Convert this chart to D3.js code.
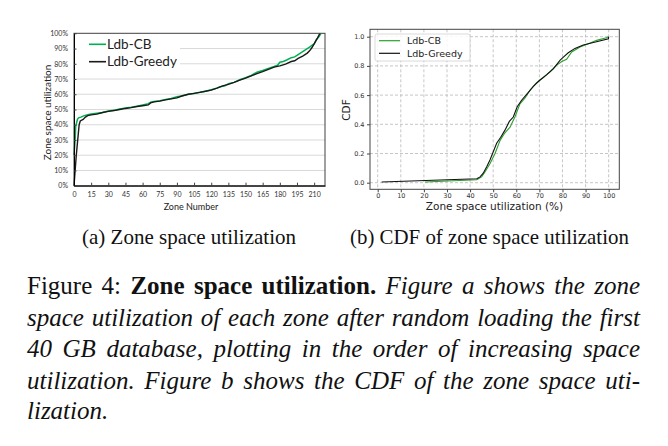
<!DOCTYPE html>
<html>
<head>
<meta charset="utf-8">
<script src="https://cdn.jsdelivr.net/npm/d3@7"></script>
<style>
  html, body { margin: 0; padding: 0; background: #fff; }
  svg { display: block; }
  .serif { font-family: "Liberation Serif", "Times New Roman", Times, serif; }
</style>
</head>
<body>
<svg id="fig" width="668" height="446"></svg>
<script>
// ---------- Data: (a) zone space utilization, sorted by zone ----------
const seriesNames = ["Ldb-CB", "Ldb-Greedy"];
const cbZone   = [0, 1, 1.5, 3, 4, 6, 9, 12, 15, 20, 25, 30, 35, 40, 45, 50, 55, 60, 65, 67, 70, 75, 80, 85, 90, 95, 100, 105, 110, 115, 120, 125, 128, 132, 135, 140, 145, 150, 155, 160, 165, 170, 175, 178, 180, 183, 186, 190, 193, 196, 200, 203, 206, 208, 210, 212, 214, 216];
const cbUtil   = [20, 30, 39, 43.5, 44.5, 45, 46, 46.5, 47, 47.5, 48, 49, 49.5, 50.3, 51, 51.5, 52.2, 53, 53.8, 54.8, 55.2, 55.8, 56.5, 57.2, 58.3, 59, 60, 60.5, 61.3, 62, 63, 64, 65, 65.5, 67, 67.8, 69.5, 70.8, 72.3, 74.5, 75.6, 77, 78.2, 79, 81, 81.5, 82.5, 84, 84.5, 86, 88, 89.5, 91, 92, 93, 96, 97.5, 100];
const greedyZone = [0, 2, 4.5, 5.5, 8, 10, 12, 15, 20, 25, 30, 35, 40, 45, 50, 55, 60, 65, 67, 70, 75, 80, 85, 90, 95, 100, 105, 110, 115, 120, 125, 130, 135, 140, 145, 150, 155, 160, 165, 170, 175, 180, 185, 190, 193, 196, 200, 204, 206, 208, 210, 213, 215];
const greedyUtil = [0, 20, 40, 42.5, 43.5, 45, 46, 46.5, 47, 48, 48.8, 49.3, 50, 50.7, 51.2, 52, 52.5, 53, 54.3, 55, 55.5, 56.3, 57, 57.6, 59, 60, 60.6, 61.2, 62, 62.7, 64, 65.5, 66.5, 67.8, 69.3, 70.6, 72, 73.6, 74.8, 76.3, 77.8, 78.6, 79.8, 81.5, 82, 83.5, 85, 87, 88.5, 90.5, 93, 97, 100];
const aXTicks = [0, 15, 30, 45, 60, 75, 90, 105, 120, 135, 150, 165, 180, 195, 210];
const aYTicks = [0, 10, 20, 30, 40, 50, 60, 70, 80, 90, 100];

// ---------- Data: (b) CDF of zone space utilization ----------
const cdfCbX = [20.5, 42.9, 45, 46.5, 48.6, 50.8, 53, 55, 57.3, 59.4, 61.6, 63.8, 66, 68.8, 71.7, 74.6, 77.5, 79.7, 81.8, 84, 87.6, 91.2, 94.8, 99, 100];
const cdfCbY = [0.005, 0.02, 0.04, 0.075, 0.13, 0.2, 0.29, 0.34, 0.38, 0.45, 0.54, 0.58, 0.635, 0.685, 0.72, 0.76, 0.805, 0.83, 0.845, 0.895, 0.93, 0.952, 0.975, 0.993, 1.0];
const cdfGreedyX = [1.7, 42.9, 44.3, 45.7, 47.2, 48.6, 50, 51.5, 53.2, 55.1, 57, 58.7, 60.4, 62.3, 64.5, 67.4, 70, 73.2, 76, 79, 80.4, 82.5, 85.4, 89, 93.4, 99.9, 100];
const cdfGreedyY = [0.005, 0.027, 0.04, 0.065, 0.11, 0.155, 0.21, 0.27, 0.31, 0.36, 0.42, 0.45, 0.52, 0.565, 0.605, 0.66, 0.70, 0.74, 0.78, 0.84, 0.86, 0.89, 0.92, 0.943, 0.96, 0.985, 1.0];
const bXTicks = [0, 10, 20, 30, 40, 50, 60, 70, 80, 90, 100];
const bYTicks = [0, 0.2, 0.4, 0.6, 0.8, 1.0];

// ---------- Text ----------
const subCaptions = ["(a) Zone space utilization", "(b) CDF of zone space utilization"];
const paraLines = [
  [["Figure 4: ", "normal", "normal"], ["Zone space utilization.", "bold", "normal"], [" Figure a shows the zone", "normal", "italic"]],
  [["space utilization of each zone after random loading the first", "normal", "italic"]],
  [["40 GB database, plotting in the order of increasing space", "normal", "italic"]],
  [["utilization. Figure b shows the CDF of the zone space uti-", "normal", "italic"]],
  [["lization.", "normal", "italic"]]
];

const svg = d3.select("#fig");
svg.append("rect").attr("width", 668).attr("height", 446).attr("fill", "#fff");

// ================= Chart (a) =================
(function () {
  const L = 74, R = 325, T = 33.3, B = 185.7;
  const x = d3.scaleLinear().domain([0, 219.5]).range([L, R]);
  const y = d3.scaleLinear().domain([0, 100]).range([B, T]);
  const g = svg.append("g").attr("font-family", "Lato, 'Open Sans', sans-serif");

  g.selectAll("line.grid").data(aYTicks.filter(d => d > 0 && d < 100)).join("line")
    .attr("x1", L).attr("x2", R).attr("y1", d => y(d)).attr("y2", d => y(d))
    .attr("stroke", "#d9d9d9").attr("stroke-width", 1);

  g.append("rect").attr("x", L + 1).attr("y", T + 1).attr("width", 105).attr("height", 36).attr("fill", "#fff");

  const line = d3.line().x(d => x(d[0])).y(d => y(d[1]));
  const cb = cbZone.map((z, i) => [z, cbUtil[i]]);
  const gr = greedyZone.map((z, i) => [z, greedyUtil[i]]);
  g.append("path").attr("d", line(cb)).attr("fill", "none").attr("stroke", "#00b050").attr("stroke-width", 1.5);
  g.append("path").attr("d", line(gr)).attr("fill", "none").attr("stroke", "#1a1a1a").attr("stroke-width", 1.4);

  g.append("rect").attr("x", L).attr("y", T).attr("width", R - L).attr("height", B - T)
    .attr("fill", "none").attr("stroke", "#404040").attr("stroke-width", 1);

  const xAxis = d3.axisBottom(x).tickValues(aXTicks).tickSizeInner(-3).tickSizeOuter(0).tickPadding(6.5);
  const gx = g.append("g").attr("transform", `translate(0,${B})`).call(xAxis);
  gx.select(".domain").attr("stroke", "#000");
  gx.selectAll(".tick line").attr("stroke", "#404040");
  gx.selectAll(".tick text").attr("font-size", 7).attr("fill", "#333").attr("font-family", "Lato, sans-serif");

  const yAxis = d3.axisLeft(y).tickValues(aYTicks).tickFormat(d => d + "%").tickSizeInner(-2.5).tickSizeOuter(0).tickPadding(6);
  const gy = g.append("g").attr("transform", `translate(${L},0)`).call(yAxis);
  gy.select(".domain").attr("stroke", "#000");
  gy.selectAll(".tick line").attr("stroke", "#404040");
  gy.selectAll(".tick text").attr("font-size", 7).attr("fill", "#333").attr("font-family", "Lato, sans-serif");

  g.append("text").attr("x", 191).attr("y", 209.5).attr("text-anchor", "middle")
    .attr("font-size", 9).attr("fill", "#222").text("Zone Number");
  g.append("text").attr("transform", `translate(51,${(T + B) / 2 + 3}) rotate(-90)`).attr("text-anchor", "middle")
    .attr("font-size", 10).attr("fill", "#222").text("Zone space utilization");

  const lg = [[seriesNames[0], "#00b050", 44.3], [seriesNames[1], "#1a1a1a", 61.7]];
  lg.forEach(([name, col, ly]) => {
    g.append("line").attr("x1", 89).attr("x2", 106).attr("y1", ly).attr("y2", ly).attr("stroke", col).attr("stroke-width", 1.6);
    g.append("text").attr("x", 107).attr("y", ly + 4.6).attr("font-size", 13.5).attr("fill", "#222").text(name);
  });
})();

// ================= Chart (b) =================
(function () {
  const L = 370, R = 619.3, T = 29.3, B = 189.3;
  const x = d3.scaleLinear().domain([-3.33, 104.6]).range([L, R]);
  const y = d3.scaleLinear().domain([-0.0452, 1.0507]).range([B, T]);
  const g = svg.append("g").attr("font-family", "'DejaVu Sans', sans-serif");

  g.selectAll("line.vg").data(bXTicks).join("line")
    .attr("x1", d => x(d)).attr("x2", d => x(d)).attr("y1", T).attr("y2", B)
    .attr("stroke", "#b8b8b8").attr("stroke-width", 0.8).attr("stroke-dasharray", "3,2");
  g.selectAll("line.hg").data(bYTicks).join("line")
    .attr("x1", L).attr("x2", R).attr("y1", d => y(d)).attr("y2", d => y(d))
    .attr("stroke", "#b8b8b8").attr("stroke-width", 0.8).attr("stroke-dasharray", "3,2");

  const line = d3.line().x(d => x(d[0])).y(d => y(d[1]));
  const cb = cdfCbX.map((v, i) => [v, cdfCbY[i]]);
  const gr = cdfGreedyX.map((v, i) => [v, cdfGreedyY[i]]);
  g.append("path").attr("d", line(cb)).attr("fill", "none").attr("stroke", "#2ca02c").attr("stroke-width", 1.1);
  g.append("path").attr("d", line(gr)).attr("fill", "none").attr("stroke", "#111").attr("stroke-width", 1.1);

  g.append("rect").attr("x", L).attr("y", T).attr("width", R - L).attr("height", B - T)
    .attr("fill", "none").attr("stroke", "#444").attr("stroke-width", 1);

  const xAxis = d3.axisBottom(x).tickValues(bXTicks).tickSizeInner(3).tickSizeOuter(0).tickPadding(1.5);
  const gx = g.append("g").attr("transform", `translate(0,${B})`).call(xAxis);
  gx.select(".domain").remove();
  gx.selectAll(".tick line").attr("stroke", "#444");
  gx.selectAll(".tick text").attr("font-size", 6.5).attr("fill", "#333").attr("font-family", "'DejaVu Sans', sans-serif");

  const yAxis = d3.axisLeft(y).tickValues(bYTicks).tickFormat(d3.format(".1f")).tickSizeInner(3).tickSizeOuter(0).tickPadding(2.5);
  const gy = g.append("g").attr("transform", `translate(${L},0)`).call(yAxis);
  gy.select(".domain").remove();
  gy.selectAll(".tick line").attr("stroke", "#444");
  gy.selectAll(".tick text").attr("font-size", 6.5).attr("fill", "#333").attr("font-family", "'DejaVu Sans', sans-serif");

  g.append("text").attr("x", 494.5).attr("y", 210).attr("text-anchor", "middle")
    .attr("font-size", 10.5).attr("fill", "#222").text("Zone space utilization (%)");
  g.append("text").attr("transform", `translate(349.5,110) rotate(-90)`).attr("text-anchor", "middle")
    .attr("font-size", 10.5).attr("fill", "#222").text("CDF");

  g.append("rect").attr("x", 375).attr("y", 34).attr("width", 95).attr("height", 27).attr("rx", 2)
    .attr("fill", "#fff").attr("fill-opacity", 0.85).attr("stroke", "#d0d0d0").attr("stroke-width", 0.8);
  const lg = [[seriesNames[0], "#2ca02c", 40.7], [seriesNames[1], "#111", 53.3]];
  lg.forEach(([name, col, ly]) => {
    g.append("line").attr("x1", 379).attr("x2", 400).attr("y1", ly).attr("y2", ly).attr("stroke", col).attr("stroke-width", 1.2);
    g.append("text").attr("x", 407).attr("y", ly + 3.5).attr("font-size", 9.5).attr("fill", "#222").text(name);
  });
})();

// ================= Captions =================
const capPos = [[82, 214], [350, 279]];
subCaptions.forEach((t, i) => {
  const el = svg.append("text").attr("class", "serif").attr("x", capPos[i][0]).attr("y", 244)
    .attr("font-size", 20).attr("fill", "#111").text(t);
  const w = el.node().getComputedTextLength();
  el.attr("font-size", (20 * capPos[i][1] / w).toFixed(2));
});

// justified paragraph: stretch word spacing to the column width
const paraY = [294, 325.5, 357, 388.5, 419];
const colWidth = 613;
paraLines.forEach((segs, i) => {
  const t = svg.append("text").attr("class", "serif").attr("x", 27).attr("y", paraY[i])
    .attr("font-size", 25).attr("fill", "#111");
  segs.forEach(([s, w, st]) => t.append("tspan").attr("font-weight", w).attr("font-style", st).text(s));
  if (i < paraLines.length - 1) {
    const natural = t.node().getComputedTextLength();
    if (natural > colWidth) {
      t.attr("textLength", colWidth).attr("lengthAdjust", "spacingAndGlyphs");
    } else {
      const spaces = segs.map(s => s[0]).join("").split(" ").length - 1;
      t.attr("word-spacing", ((colWidth - natural) / spaces).toFixed(2));
    }
  }
});
</script>
</body>
</html>
